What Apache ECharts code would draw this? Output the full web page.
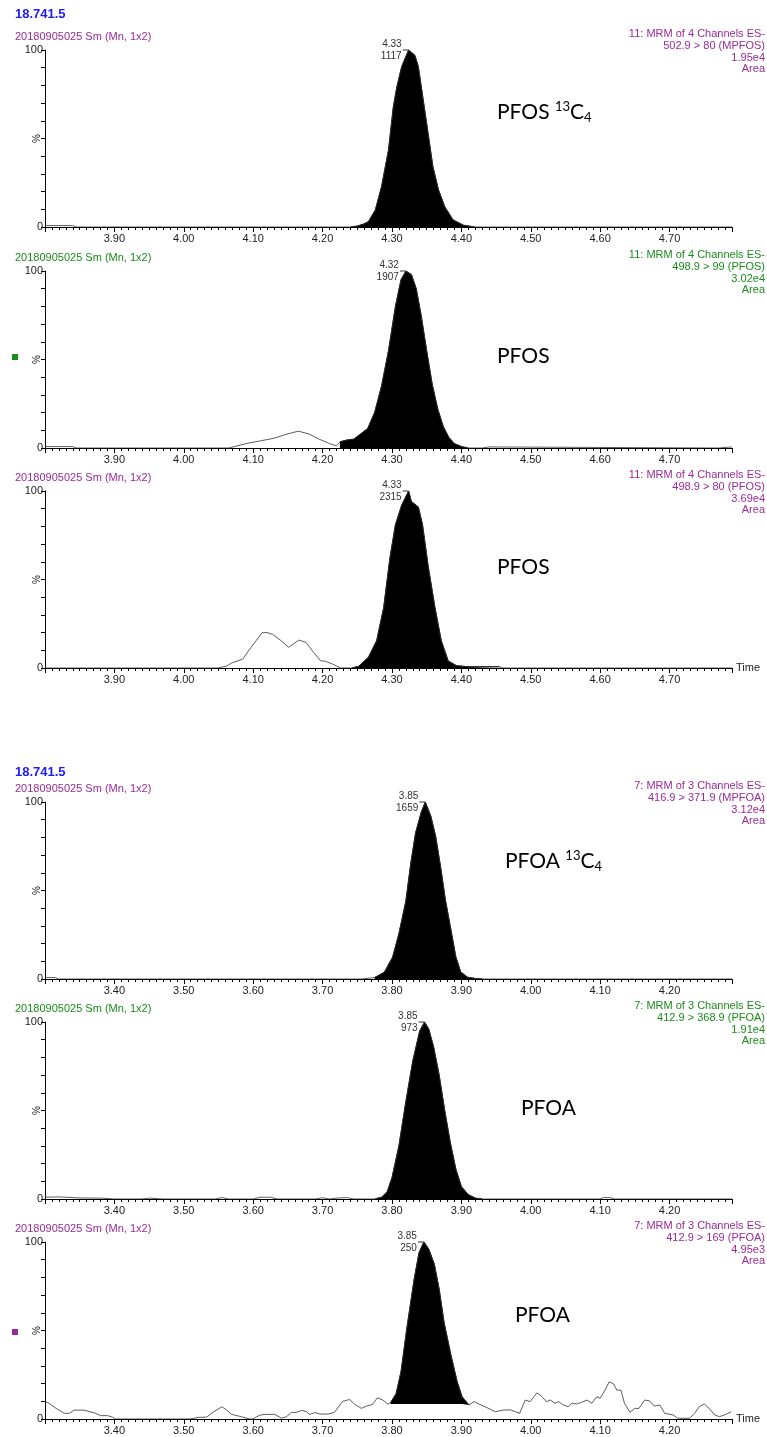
<!DOCTYPE html>
<html>
<head>
<meta charset="utf-8">
<script src="https://cdn.jsdelivr.net/npm/echarts@6/dist/echarts.min.js"></script>
<style>
html, body { margin: 0; padding: 0; background: #fff; }
#main { width: 767px; height: 1437px; }
</style>
</head>
<body>
<div id="main"></div>
<script>
// retention time [min], relative intensity [%]
var traceMPFOS = [[3.80,0.8],[3.84,0.8],[3.845,0],[4.24,0],[4.25,0.5],[4.258,1.5],[4.266,3],[4.276,9.6],[4.285,22.8],[4.295,43.5],[4.302,68],[4.307,79],[4.314,90.6],[4.324,100],[4.333,97],[4.338,90.6],[4.345,71.8],[4.352,53],[4.359,34],[4.367,21],[4.376,11.5],[4.388,4],[4.403,1],[4.419,0],[4.79,0]]
var tracePFOS99 = [[3.80,0.8],[3.84,0.8],[3.845,0],[4.065,0],[4.075,1],[4.09,2.5],[4.11,4],[4.13,5.5],[4.15,8],[4.165,9.5],[4.18,8],[4.195,5],[4.21,2.5],[4.22,1.2],[4.225,3.5],[4.235,4.5],[4.245,5],[4.255,8],[4.265,11],[4.275,20],[4.285,35],[4.295,55],[4.305,80],[4.313,95],[4.32,100],[4.328,98],[4.335,90],[4.342,75],[4.35,55],[4.358,36],[4.366,22],[4.374,12],[4.382,6],[4.39,2.5],[4.40,0.8],[4.41,0],[4.43,0],[4.432,0.6],[4.44,0.6],[4.442,0],[4.77,0],[4.772,0.6],[4.79,0.6]]
var tracePFOS80 = [[3.80,0],[4.049,0],[4.061,1],[4.07,3],[4.085,5],[4.097,11.7],[4.113,20],[4.12,20],[4.128,19],[4.14,15.5],[4.151,11.7],[4.166,15.8],[4.176,14.5],[4.187,8.9],[4.197,4.1],[4.204,3.8],[4.214,2.3],[4.226,0],[4.242,0],[4.252,1],[4.266,6],[4.278,15.5],[4.288,34],[4.297,62],[4.305,81],[4.314,92],[4.324,100],[4.328,94],[4.338,91],[4.344,81],[4.352,58],[4.362,34],[4.371,15.5],[4.381,4],[4.393,1.3],[4.41,0.7],[4.455,0.7],[4.46,0],[4.79,0]]
var traceMPFOA = [[3.30,0.8],[3.315,0.8],[3.32,0],[3.756,0],[3.775,0.8],[3.789,3.8],[3.801,12.4],[3.81,25.6],[3.82,44],[3.827,65],[3.834,82.5],[3.842,94],[3.848,100],[3.856,92],[3.863,80.5],[3.87,63.5],[3.877,44.7],[3.885,27.7],[3.892,12.6],[3.899,4],[3.909,1],[3.92,0.3],[3.93,0],[4.29,0]]
var tracePFOA369 = [[3.30,1],[3.32,1.2],[3.35,0.6],[3.38,0.5],[3.40,0],[3.44,0],[3.45,0.5],[3.47,0],[3.545,0],[3.555,0.8],[3.565,0],[3.60,0],[3.61,1],[3.625,1],[3.635,0],[3.69,0],[3.70,0.7],[3.71,0],[3.72,0.5],[3.735,0.8],[3.745,0],[3.775,0],[3.785,1],[3.793,4],[3.80,12],[3.81,30],[3.82,55],[3.83,78],[3.84,95],[3.847,100],[3.853,96],[3.86,86],[3.868,70],[3.876,50],[3.884,32],[3.892,17],[3.90,7],[3.91,2.5],[3.92,0.5],[3.93,0],[4.10,0],[4.105,0.8],[4.115,0.8],[4.12,0],[4.29,0]]
var tracePFOA169 = [[3.30,10],[3.306,8.8],[3.316,6],[3.328,3.2],[3.335,3.2],[3.342,5],[3.356,5],[3.365,4.1],[3.373,3.2],[3.38,1.9],[3.39,1.9],[3.397,1.1],[3.402,0],[3.509,0],[3.521,0.9],[3.533,1.1],[3.543,4.1],[3.555,6.9],[3.562,5],[3.569,2.6],[3.583,1.3],[3.595,0],[3.599,0],[3.61,2.2],[3.617,2.6],[3.631,2.6],[3.641,0.4],[3.648,1.3],[3.655,3.7],[3.662,3.7],[3.67,4.9],[3.677,4.1],[3.681,2.6],[3.689,3.6],[3.696,2.8],[3.708,2.8],[3.717,3.7],[3.729,10],[3.739,11],[3.746,8.4],[3.756,6],[3.763,7.3],[3.772,8.2],[3.779,12],[3.787,10.7],[3.794,8.4],[3.798,9.2],[3.806,14.4],[3.813,26.6],[3.822,52.8],[3.832,79],[3.839,94],[3.846,100],[3.853,96],[3.861,87.5],[3.868,73.4],[3.875,54.7],[3.885,36],[3.894,21],[3.901,12.6],[3.911,7.9],[3.918,9.8],[3.925,8.5],[3.937,6.4],[3.949,4.1],[3.961,5.1],[3.971,5.1],[3.978,4.1],[3.984,3.2],[3.992,10.7],[3.999,9.8],[4.009,14.8],[4.016,12.6],[4.023,9.8],[4.028,10.7],[4.035,8.9],[4.04,9.8],[4.047,7.9],[4.054,7],[4.059,8.9],[4.066,8.5],[4.073,9.4],[4.081,10.7],[4.088,8.9],[4.095,12.6],[4.1,11.7],[4.107,16.3],[4.113,21],[4.119,20],[4.124,16.3],[4.13,16.3],[4.135,8.9],[4.143,3.8],[4.15,6],[4.156,6],[4.164,10.7],[4.171,10.3],[4.178,7.3],[4.186,7.9],[4.193,3.2],[4.205,2.3],[4.212,0.4],[4.229,0.4],[4.236,3.2],[4.243,7],[4.25,8.5],[4.257,6],[4.265,2.3],[4.272,1.3],[4.281,2.6],[4.289,4.1]]

var traces = [traceMPFOS, tracePFOS99, tracePFOS80, traceMPFOA, tracePFOA369, tracePFOA169]
var peakWindows = [[4.24, 4.42], [4.225, 4.41], [4.24, 4.455], [3.76, 3.93], [3.775, 3.93], [3.798, 3.911]]
var peakBase = [0, 0, 0, 0, 0, 8.5]
var peakRT = ['4.33', '4.32', '4.33', '3.85', '3.85', '3.85']
var peakArea = ['1117', '1907', '2315', '1659', '973', '250']
var timeRanges = [[3.80, 4.79], [3.30, 4.29]]
var sampleName = '20180905025 Sm (Mn, 1x2)'
var runTitle = '18.741.5'
var channelLines = [
    ['11: MRM of 4 Channels ES-', '502.9 > 80 (MPFOS)', '1.95e4', 'Area'],
    ['11: MRM of 4 Channels ES-', '498.9 > 99 (PFOS)', '3.02e4', 'Area'],
    ['11: MRM of 4 Channels ES-', '498.9 > 80 (PFOS)', '3.69e4', 'Area'],
    ['7: MRM of 3 Channels ES-', '416.9 > 371.9 (MPFOA)', '3.12e4', 'Area'],
    ['7: MRM of 3 Channels ES-', '412.9 > 368.9 (PFOA)', '1.91e4', 'Area'],
    ['7: MRM of 3 Channels ES-', '412.9 > 169 (PFOA)', '4.95e3', 'Area']
]
var compounds = [['PFOS', true], ['PFOS', false], ['PFOS', false], ['PFOA', true], ['PFOA', false], ['PFOA', false]]

// layout
var tops = [50, 271, 491, 802, 1022, 1242]
var plotH = 177
var purple = '#9a2a98'
var green = '#1a8c1a'
var headColors = [purple, green, purple, purple, green, purple]
var labelPos = [[497, 100], [497, 346], [497, 557], [505, 849], [521, 1098], [515, 1305]]
var font = 'Liberation Sans, Arial, sans-serif'

var grids = []
var xAxes = []
var yAxes = []
var series = []
var titles = []
var graphics = []

tops.forEach(function (top, i) {
    var range = timeRanges[i < 3 ? 0 : 1]
    var last = i === 2 || i === 5
    grids.push({ left: 45, right: 35, top: top, height: plotH })
    xAxes.push({
        type: 'value', gridIndex: i, min: range[0], max: range[1], interval: 0.1,
        name: last ? 'Time' : '', nameLocation: 'end', nameGap: 4,
        nameTextStyle: { fontSize: 11, color: '#222', fontFamily: font },
        axisLine: { lineStyle: { color: '#000', width: 1 } },
        axisTick: { length: 5, lineStyle: { color: '#000' } },
        minorTick: { show: true, splitNumber: 10, length: 3, lineStyle: { color: '#000' } },
        splitLine: { show: false },
        axisLabel: {
            showMinLabel: false, showMaxLabel: false, fontSize: 11, color: '#222', margin: 6, fontFamily: font,
            formatter: function (v) { return v.toFixed(2) }
        }
    })
    yAxes.push({
        type: 'value', gridIndex: i, min: 0, max: 100, interval: 10,
        axisLine: { show: true, lineStyle: { color: '#000', width: 1 } },
        axisTick: { show: true, length: 4, lineStyle: { color: '#000' } },
        splitLine: { show: false },
        axisLabel: {
            fontSize: 11, color: '#222', margin: 2, fontFamily: font,
            formatter: function (v) { return (v === 0 || v === 100) ? String(v) : '' }
        }
    })

    var trace = traces[i]
    var win = peakWindows[i]
    var peak = trace.filter(function (p) { return p[0] >= win[0] && p[0] <= win[1] })
    var apex = peak.reduce(function (a, b) { return b[1] > a[1] ? b : a })

    series.push({
        type: 'line', xAxisIndex: i, yAxisIndex: i, data: peak,
        showSymbol: false, silent: true, z: 2,
        lineStyle: { color: '#000', width: 1 },
        areaStyle: { color: '#000', opacity: 1, origin: peakBase[i] },
        markPoint: {
            symbol: 'rect', symbolSize: [6, 1], symbolOffset: [-3, 0],
            itemStyle: { color: '#333' },
            label: {
                show: true, position: 'left', distance: 1,
                fontSize: 10, lineHeight: 12, color: '#333', align: 'right', fontFamily: font,
                formatter: peakRT[i] + '\n' + peakArea[i]
            },
            data: [{ coord: apex }]
        }
    })
    series.push({
        type: 'line', xAxisIndex: i, yAxisIndex: i, data: trace,
        showSymbol: false, silent: true, z: 3,
        lineStyle: { color: '#333', width: 0.8 }
    })

    titles.push({
        text: sampleName, left: 10, top: top - 24,
        textStyle: { fontSize: 11, fontWeight: 'normal', color: headColors[i], fontFamily: font }
    })
    graphics.push({
        type: 'text', right: 2, top: top - 22,
        style: {
            text: channelLines[i].join('\n'), textAlign: 'right',
            font: '11px ' + font, lineHeight: 11.8, fill: headColors[i]
        }
    })
    // y axis unit
    graphics.push({
        type: 'text', x: 37, y: top + plotH / 2, rotation: Math.PI / 2,
        style: { text: '%', font: '10px ' + font, fill: '#222', textAlign: 'center', textVerticalAlign: 'middle' }
    })

    var c = compounds[i]
    graphics.push({
        type: 'text', left: labelPos[i][0], top: labelPos[i][1],
        style: {
            text: c[1] ? '{m|' + c[0] + ' }{sup|13}{m|C}{sub|4}' : '{m|' + c[0] + '}',
            rich: {
                m: { fontSize: 21, fontFamily: 'Lato', fill: '#000', verticalAlign: 'middle' },
                sup: { fontSize: 13, fontFamily: 'Lato', fill: '#000', padding: [0, 0, 12, 0] },
                sub: { fontSize: 13, fontFamily: 'Lato', fill: '#000', padding: [10, 0, 0, 0] }
            }
        }
    })
})

titles.push({ text: runTitle, left: 10, top: 3, textStyle: { fontSize: 13, fontWeight: 'bold', color: '#1a1aff', fontFamily: font } })
titles.push({ text: runTitle, left: 10, top: 761, textStyle: { fontSize: 13, fontWeight: 'bold', color: '#1a1aff', fontFamily: font } })

graphics.push({ type: 'rect', left: 12, top: 354, shape: { width: 6, height: 6 }, style: { fill: green } })
graphics.push({ type: 'rect', left: 12, top: 1329, shape: { width: 6, height: 6 }, style: { fill: purple } })

var myChart = echarts.init(document.getElementById('main'))
myChart.setOption({
    animation: false,
    backgroundColor: '#fff',
    title: titles,
    grid: grids,
    xAxis: xAxes,
    yAxis: yAxes,
    series: series,
    graphic: graphics
})
</script>
</body>
</html>
